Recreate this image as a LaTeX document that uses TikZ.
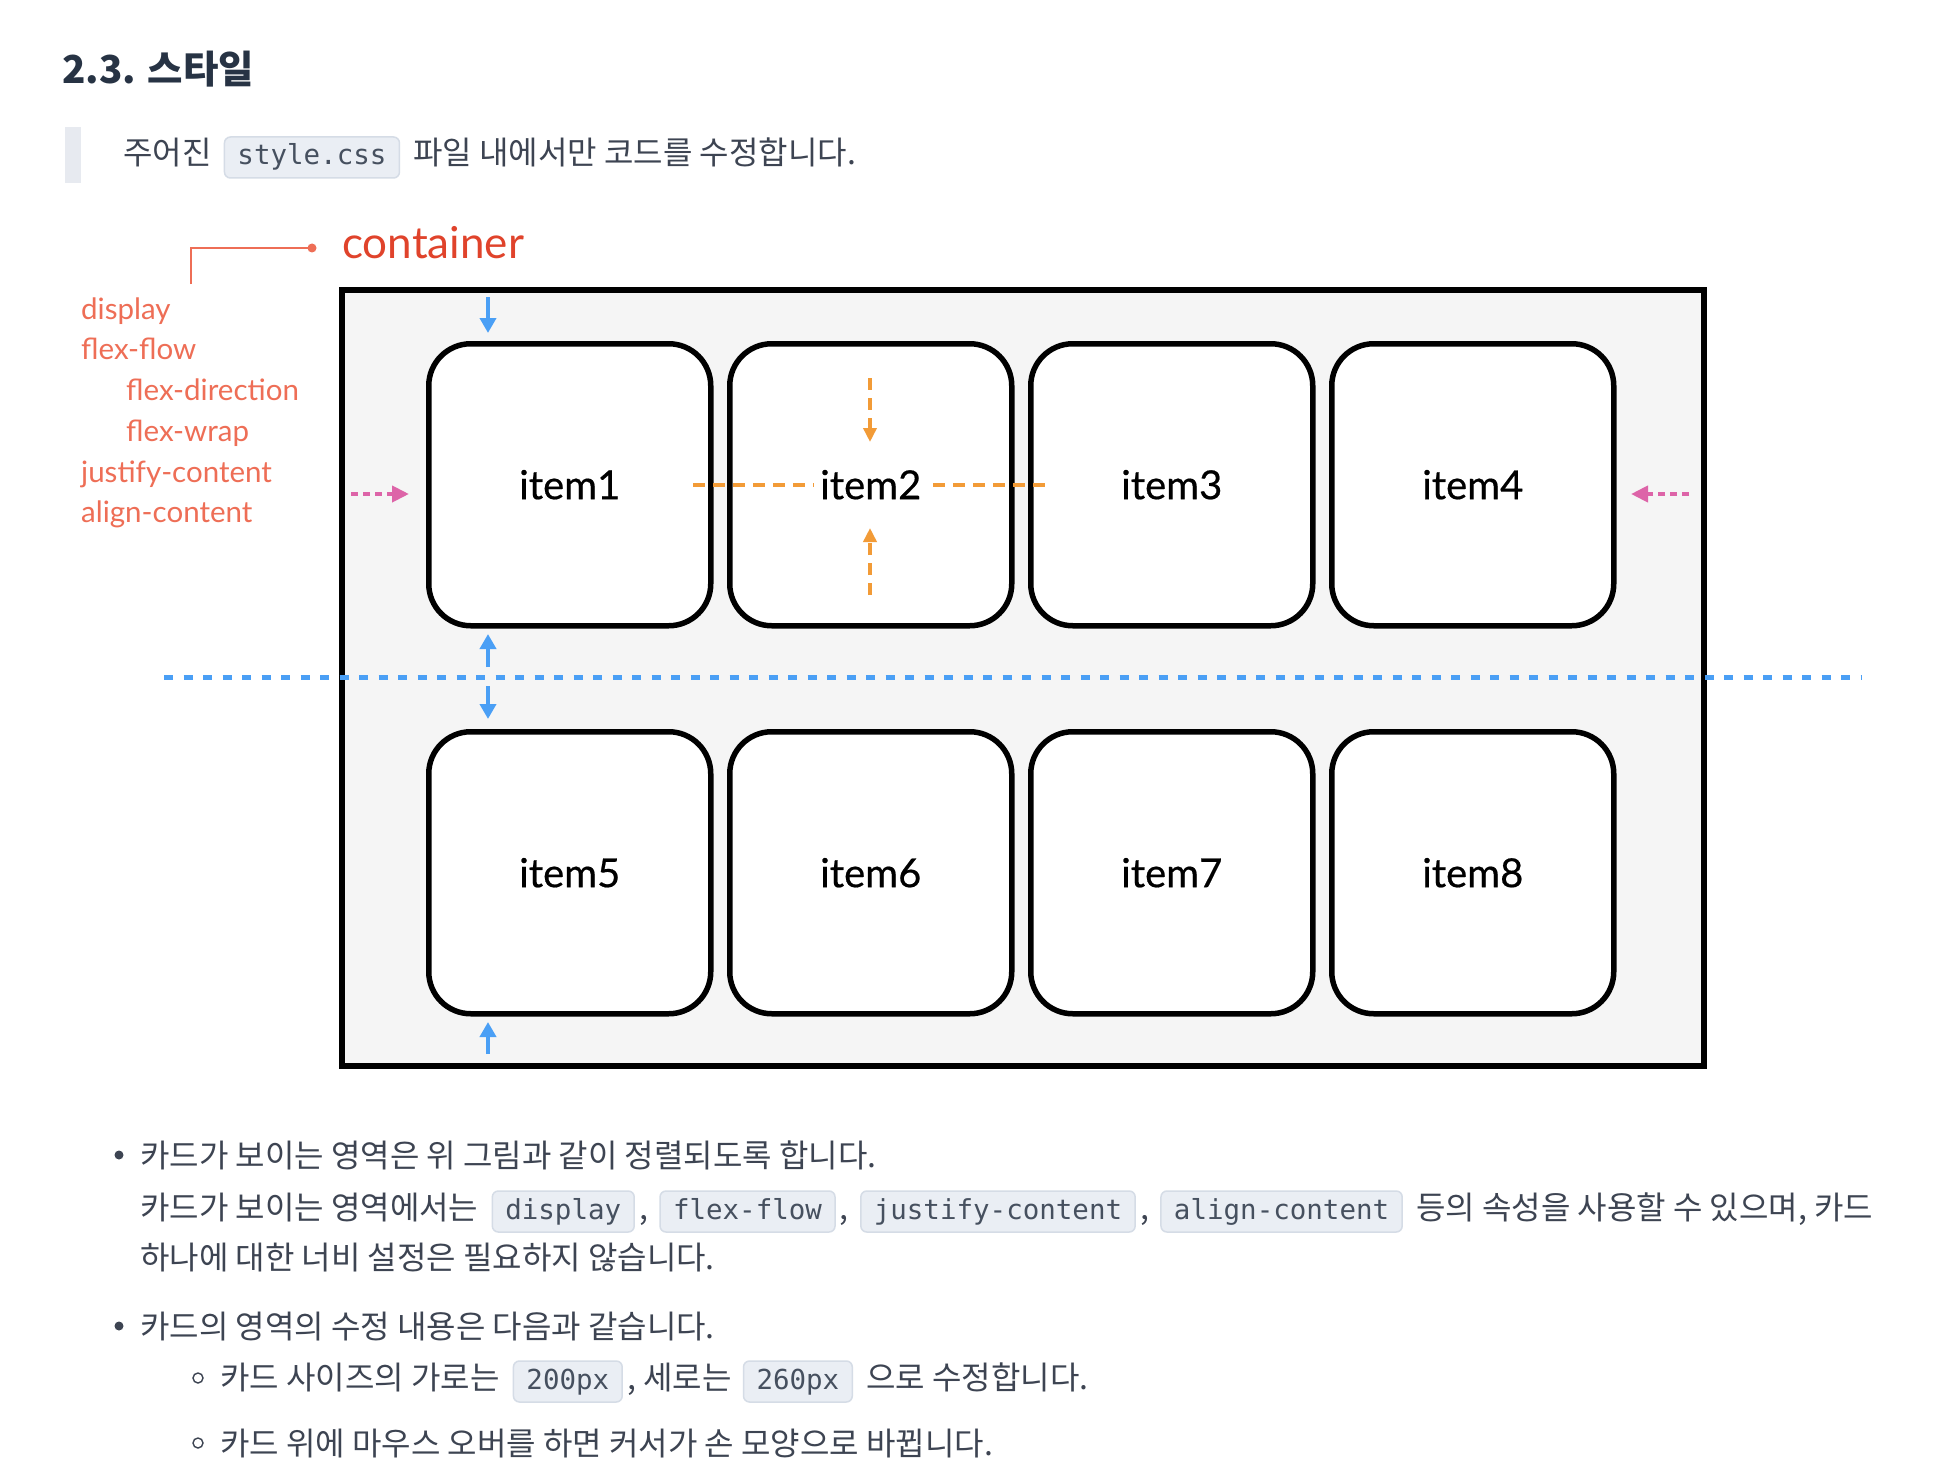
\documentclass[tikz,border=0pt]{standalone}
\usepackage{fontspec}
\setmainfont{Noto Sans CJK KR}
\setmonofont{DejaVu Sans Mono}
\newfontfamily\diagfont{Lato}
\newfontfamily\cardfont[FakeBold=0.5]{Lato}
\usetikzlibrary{
  arrows.meta,
  positioning,
}

\definecolor{headcol}{HTML}{273344}
\definecolor{textcol}{HTML}{3D4452}
\definecolor{codebg}{HTML}{EAEEF4}
\definecolor{codeborder}{HTML}{D5DCE6}
\definecolor{codecol}{HTML}{46505F}
\definecolor{quotebar}{HTML}{E7EAF0}
\definecolor{boxfill}{HTML}{F5F5F5}
\definecolor{containercol}{HTML}{E0432B}
\definecolor{propcol}{HTML}{EE6E56}
\definecolor{flexblue}{HTML}{4A9FF5}
\definecolor{flexorange}{HTML}{F29B37}
\definecolor{flexpink}{HTML}{DD64A8}

\tikzset{
  >={Triangle[length=14pt,width=15pt]},
  txt/.style={anchor=base west, inner sep=0pt, text=textcol,
    font=\fontsize{32}{38}\selectfont},
  code/.style={anchor=base west, fill=codebg, draw=codeborder, line width=1.5pt,
    rounded corners=6pt, inner xsep=13pt, inner ysep=0pt, text height=28pt,
    text depth=13pt, text=codecol, font=\ttfamily\fontsize{27.5}{32}\selectfont},
  prop/.style={anchor=west, inner sep=0pt, text=propcol, text height=21pt,
    text depth=6pt, font=\diagfont\fontsize{29.5}{34}\selectfont},
  card/.style={draw=black, line width=5.5pt, fill=white, rounded corners=42pt,
    minimum width=282pt, minimum height=282pt, anchor=north west, inner sep=0pt},
  cardlabel/.style={fill=white, inner xsep=6pt, inner ysep=2pt,
    font=\cardfont\fontsize{40}{46}\selectfont},
  blue arrow/.style={->, draw=flexblue, line width=4pt,
    >={Triangle[length=15pt,width=16pt]}},
  orange dash/.style={draw=flexorange, line width=4pt, dash pattern=on 12pt off 8pt},
  pink arrow/.style={->, draw=flexpink, line width=4pt, dash pattern=on 7pt off 5pt,
    >={Triangle[length=17pt,width=16pt]}},
}

\begin{document}
\begin{tikzpicture}[x=1pt, y=-1pt]
  \fill[white] (0,0) rectangle (1936,1482);
  \useasboundingbox (0,0) rectangle (1936,1482);

  % heading and note
  \node[anchor=base west, inner sep=0pt, text=headcol,
    font=\bfseries\fontsize{38.5}{46}\selectfont] (title) at (62,84) {2.3. 스타일};
  \fill[quotebar] (65,127) rectangle (81,183);
  \node[txt] (q1) at (123,165) {주어진};
  \node[code] (qc) at ([xshift=12pt]q1.base east) {style.css};
  \node[txt] (q2) at ([xshift=13pt]qc.base east) {파일 내에서만 코드를 수정합니다.};

  % flex container
  \node[draw=black, line width=5.5pt, fill=boxfill, minimum width=1362pt,
    minimum height=776pt, anchor=north west, inner sep=0pt] (flexbox) at (339,287) {};
  \node[anchor=west, inner sep=0pt, text=containercol, text height=30pt, text depth=9pt,
    font=\diagfont\fontsize{44}{50}\selectfont] (container) at (342,248) {container};
  \coordinate (cfoot) at (191,284);
  \draw[propcol, line width=2pt] (cfoot) |- ([xshift=-30pt]container.west);
  \fill[propcol] ([xshift=-30pt]container.west) circle (4.5pt);

  \foreach \name/\x/\y in {display/81/312, flex-flow/81/352, flex-direction/126/393,
      flex-wrap/126/434, justify-content/81/475, align-content/81/515}
    \node[prop] (\name) at (\x,\y) {\name};

  \foreach \n/\x/\y in {1/426/341, 2/727/341, 3/1028/341, 4/1329/341,
      5/426/729, 6/727/729, 7/1028/729, 8/1329/729}
    \node[card] (card\n) at (\x,\y) {};

  % align-items / align-content
  \coordinate (orangeL) at (693,485);
  \coordinate (orangeR) at (1051,485);
  \draw[orange dash] (orangeL) -- (orangeR);
  \coordinate (alignA) at (870,378);
  \coordinate (alignB) at (870,442);
  \coordinate (alignC) at (870,595);
  \coordinate (alignD) at (870,528);
  \draw[orange dash, ->, >={Triangle[length=14pt,width=13pt]}] (alignA) -- (alignB);
  \draw[orange dash, ->, >={Triangle[length=14pt,width=13pt]}] (alignC) -- (alignD);

  \foreach \n in {1,...,8}
    \node[cardlabel] (label\n) at (card\n.center) {item\n};

  % cross axis
  \coordinate (lineL) at (164,677);
  \coordinate (lineR) at (1861,677);
  \draw[flexblue, line width=5pt, dash pattern=on 9pt off 10.5pt] (lineL) -- (lineR);
  \coordinate (gapA) at (488,297);
  \coordinate (gapB) at (488,333);
  \coordinate (gapC) at (488,667);
  \coordinate (gapD) at (488,634);
  \coordinate (gapE) at (488,686);
  \coordinate (gapF) at (488,719);
  \coordinate (gapG) at (488,1054);
  \coordinate (gapH) at (488,1022);
  \draw[blue arrow] (gapA) -- (gapB);
  \draw[blue arrow] (gapC) -- (gapD);
  \draw[blue arrow] (gapE) -- (gapF);
  \draw[blue arrow] (gapG) -- (gapH);

  % main axis
  \coordinate (mainA) at (351,494);
  \coordinate (mainB) at (409,494);
  \coordinate (mainC) at (1689,494);
  \coordinate (mainD) at (1631,494);
  \draw[pink arrow] (mainA) -- (mainB);
  \draw[pink arrow] (mainC) -- (mainD);

  % notes
  \fill[textcol] (119,1155) circle (4.5pt);
  \node[txt] (l1) at (140,1167) {카드가 보이는 영역은 위 그림과 같이 정렬되도록 합니다.};
  \node[txt] (l2a) at (140,1219) {카드가 보이는 영역에서는};
  \node[code] (c1) at ([xshift=13pt]l2a.base east) {display};
  \node[txt] (l2b) at ([xshift=4pt]c1.base east) {,};
  \node[code] (c2) at ([xshift=11pt]l2b.base east) {flex-flow};
  \node[txt] (l2c) at ([xshift=4pt]c2.base east) {,};
  \node[code] (c3) at ([xshift=11pt]l2c.base east) {justify-content};
  \node[txt] (l2d) at ([xshift=4pt]c3.base east) {,};
  \node[code] (c4) at ([xshift=11pt]l2d.base east) {align-content};
  \node[txt] (l2e) at ([xshift=13pt]c4.base east) {등의 속성을 사용할 수 있으며, 카드};
  \node[txt] (l3) at (140,1269) {하나에 대한 너비 설정은 필요하지 않습니다.};

  \fill[textcol] (119,1326) circle (4.5pt);
  \node[txt] (l4) at (140,1338) {카드의 영역의 수정 내용은 다음과 같습니다.};
  \draw[textcol, line width=1.4pt] (198,1378) circle (5pt);
  \node[txt] (l5a) at (220,1389) {카드 사이즈의 가로는};
  \node[code] (c5) at ([xshift=13pt]l5a.base east) {200px};
  \node[txt] (l5b) at ([xshift=4pt]c5.base east) {, 세로는};
  \node[code] (c6) at ([xshift=11pt]l5b.base east) {260px};
  \node[txt] (l5c) at ([xshift=13pt]c6.base east) {으로 수정합니다.};
  \draw[textcol, line width=1.4pt] (198,1443) circle (5pt);
  \node[txt] (l6) at (220,1455) {카드 위에 마우스 오버를 하면 커서가 손 모양으로 바뀝니다.};
\end{tikzpicture}
\end{document}
